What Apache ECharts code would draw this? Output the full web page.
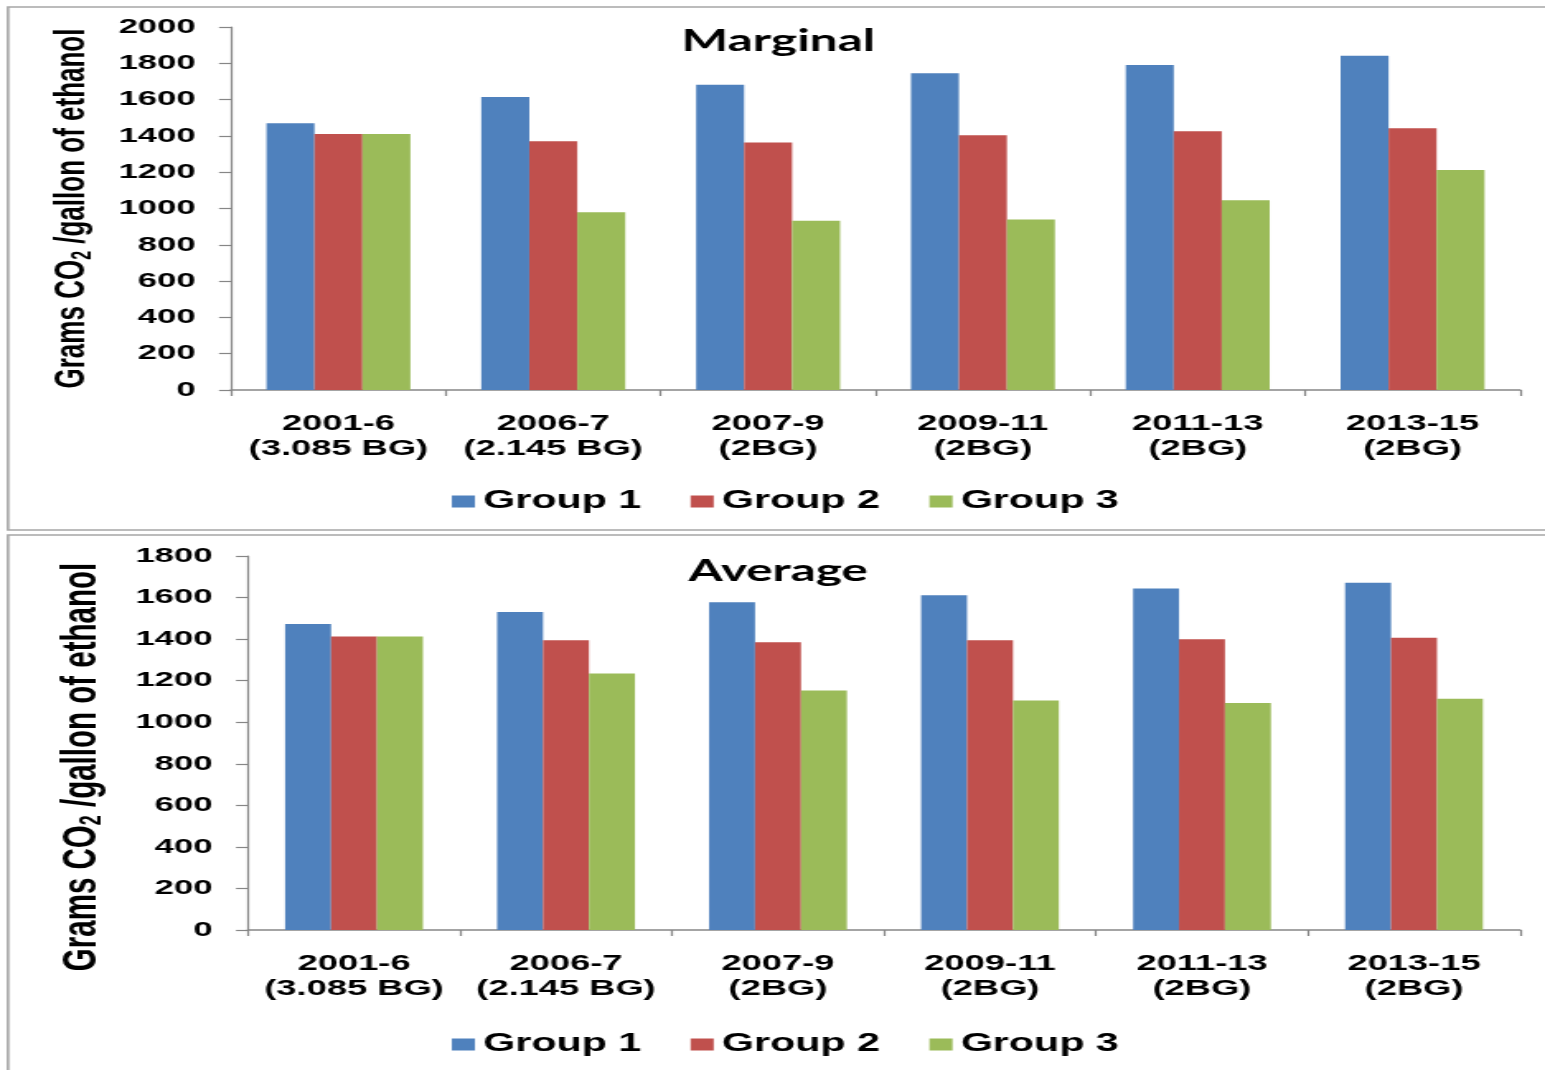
<!DOCTYPE html>
<html>
<head>
<meta charset="utf-8">
<script src="https://cdn.jsdelivr.net/npm/echarts@6/dist/echarts.min.js"></script>
<style>
html,body{margin:0;padding:0;background:#fff;overflow:hidden;}
#wrap{width:1545px;height:1070px;overflow:hidden;}
/* the reference picture is horizontally stretched; reproduce it by stretching the chart */
#chart{width:937px;height:1070px;transform:scaleX(1.6489);transform-origin:0 0;}
</style>
</head>
<body>
<div id="wrap"><div id="chart"></div></div>
<script>
// ---- data ----
var categories = ['2001-6\n(3.085 BG)', '2006-7\n(2.145 BG)', '2007-9\n(2BG)', '2009-11\n(2BG)', '2011-13\n(2BG)', '2013-15\n(2BG)'];
var groupNames = ['Group 1', 'Group 2', 'Group 3'];
var marginalG1 = [1470, 1615, 1682, 1745, 1790, 1842];
var marginalG2 = [1410, 1370, 1364, 1403, 1425, 1442];
var marginalG3 = [1410, 980, 933, 940, 1045, 1212];
var averageG1 = [1473, 1530, 1577, 1611, 1644, 1671];
var averageG2 = [1412, 1394, 1385, 1394, 1399, 1407];
var averageG3 = [1412, 1235, 1153, 1105, 1092, 1113];
var marginalAxis = {min: 0, max: 2000, interval: 200};
var averageAxis = {min: 0, max: 1800, interval: 200};
var panelTitles = ['Marginal', 'Average'];
var yTitle = 'Grams CO{sub|2} /gallon of ethanol';

var colors = ['#4F81BD', '#C0504D', '#9BBB59'];
var axisColor = '#868686';
var labelFont = 'Liberation Sans';

function yAxisOf(gridIndex, ax, nameGap, fs, pad) {
  return {
    type: 'value', gridIndex: gridIndex, min: ax.min, max: ax.max, interval: ax.interval,
    axisLine: {show: true, lineStyle: {color: axisColor, width: 1.2}},
    axisTick: {show: true, length: 7.3, lineStyle: {color: axisColor, width: 1.2}},
    splitLine: {show: false},
    axisLabel: {margin: 21.5, color: '#000', fontFamily: labelFont, fontWeight: 'bold', fontSize: 21,
      formatter: function (v) { return String(v); }},
    name: yTitle, nameLocation: 'middle', nameRotate: 90, nameGap: nameGap,
    nameTextStyle: {
      color: '#000', fontFamily: labelFont, fontWeight: 'bold', fontSize: fs,
      padding: pad,
      rich: {sub: {fontFamily: labelFont, fontWeight: 'bold', fontSize: Math.round(fs * 0.62), verticalAlign: 'bottom', padding: [Math.round(fs * 0.45), 0, 0, 0]}}
    }
  };
}
function xAxisOf(gridIndex) {
  return {
    type: 'category', gridIndex: gridIndex, data: categories,
    axisLine: {show: true, lineStyle: {color: axisColor, width: 1.6}},
    axisTick: {show: true, length: 6, alignWithLabel: false, lineStyle: {color: axisColor, width: 1.2}},
    axisLabel: {margin: 21, color: '#000', fontFamily: labelFont, fontWeight: 'bold', fontSize: 22, lineHeight: 25, interval: 0}
  };
}
function barSeries(name, data, idx, gridIndex, gap) {
  return {
    name: name, type: 'bar', xAxisIndex: gridIndex, yAxisIndex: gridIndex, data: data,
    barGap: '0%', barCategoryGap: gap,
    itemStyle: {color: colors[idx]},
    emphasis: {disabled: true}
  };
}
function legendOf(top) {
  return {
    data: groupNames, left: 274, top: top, orient: 'horizontal', padding: 0,
    itemWidth: 14, itemHeight: 12, itemGap: 30, icon: 'rect',
    selectedMode: false,
    textStyle: {color: '#000', fontFamily: labelFont, fontWeight: 'bold', fontSize: 25}
  };
}
function titleOf(text, top) {
  return {text: text, left: 472, top: top, textAlign: 'center', padding: 0,
    textStyle: {fontFamily: 'Lato', fontWeight: 'bold', fontSize: 30, color: '#000'}};
}

var chart = echarts.init(document.getElementById('chart'), null, {renderer: 'canvas'});
chart.setOption({
  animation: false,
  backgroundColor: '#fff',
  color: colors,
  title: [titleOf(panelTitles[0], 26), titleOf(panelTitles[1], 556)],
  legend: [legendOf(489), legendOf(1032)],
  grid: [
    {left: 140.1, right: 15.2, top: 27, height: 363, containLabel: false, outerBoundsMode: 'none'},
    {left: 150.4, right: 15.2, top: 556, height: 374, containLabel: false, outerBoundsMode: 'none'}
  ],
  xAxis: [xAxisOf(0), xAxisOf(1)],
  yAxis: [
    yAxisOf(0, marginalAxis, 82, 26, [0, 0, 0, 0]),
    yAxisOf(1, averageAxis, 85, 29.5, [0, 48, 0, 0])
  ],
  series: [
    barSeries(groupNames[0], marginalG1, 0, 0, '33%'),
    barSeries(groupNames[1], marginalG2, 1, 0, '33%'),
    barSeries(groupNames[2], marginalG3, 2, 0, '33%'),
    barSeries(groupNames[0], averageG1, 0, 1, '35%'),
    barSeries(groupNames[1], averageG2, 1, 1, '35%'),
    barSeries(groupNames[2], averageG3, 2, 1, '35%')
  ],
  graphic: [
    {type: 'rect', shape: {x: 4.9, y: 7, width: 960, height: 523}, style: {fill: 'none', stroke: '#a6a6a6', lineWidth: 1.6}, silent: true, z: -1},
    {type: 'rect', shape: {x: 4.9, y: 535, width: 960, height: 560}, style: {fill: 'none', stroke: '#a6a6a6', lineWidth: 1.6}, silent: true, z: -1}
  ]
});
</script>
</body>
</html>
